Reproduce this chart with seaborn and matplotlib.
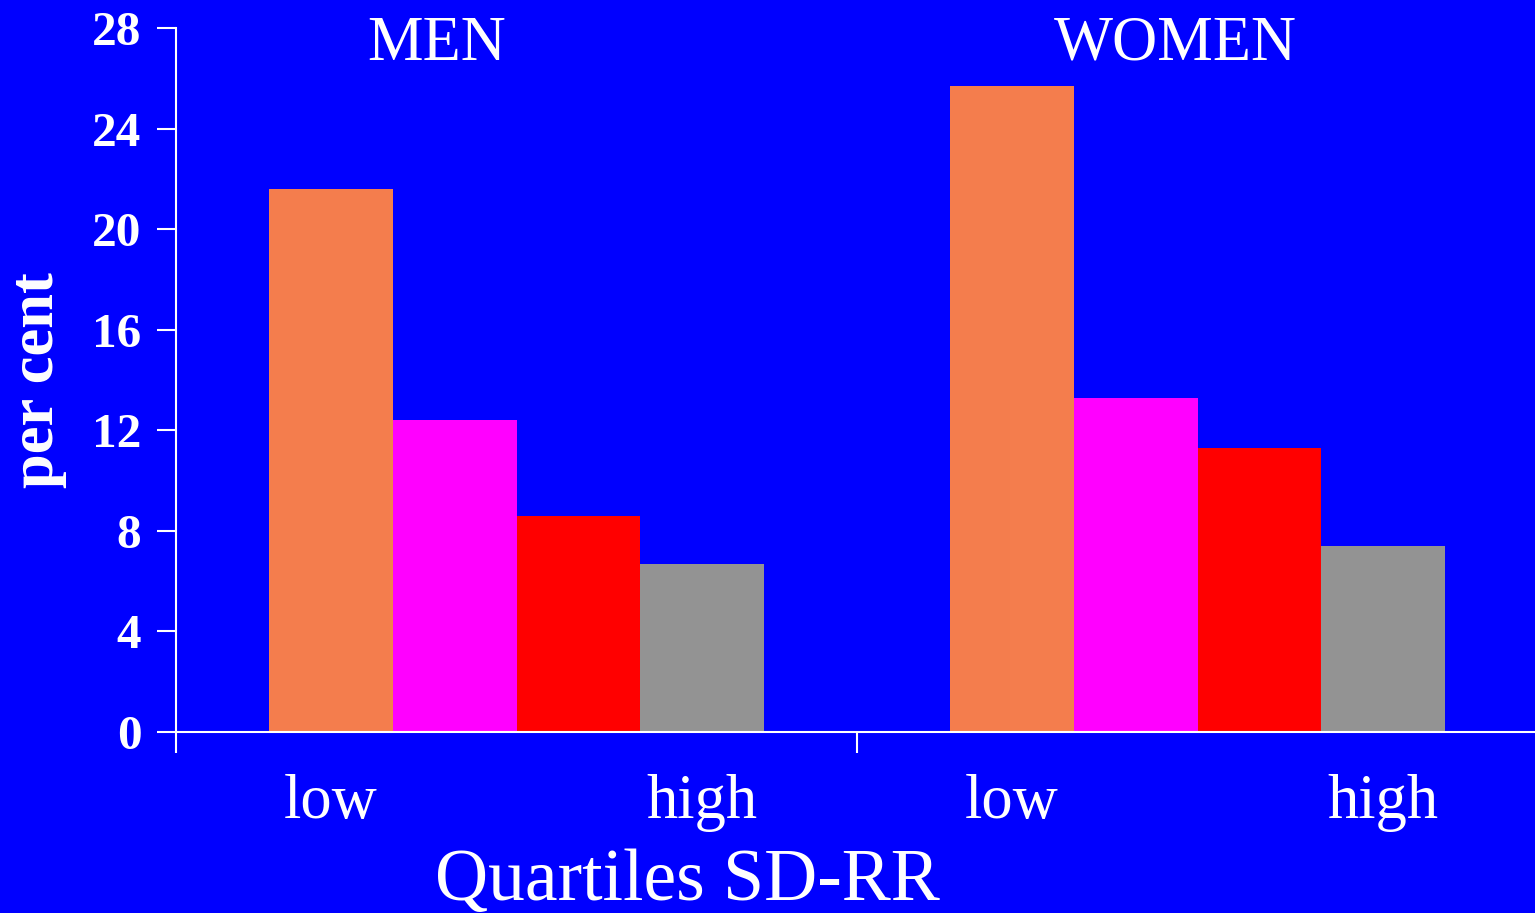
import matplotlib
matplotlib.use("Agg")
import matplotlib.pyplot as plt
import seaborn as sns
import pandas as pd

groups = ["MEN", "WOMEN"]
quartiles = ["Q1", "Q2", "Q3", "Q4"]
men = [21.6, 12.4, 8.6, 6.7]
women = [25.7, 13.3, 11.3, 7.4]
end_labels = ["low", "high"]
y_ticks = [0, 4, 8, 12, 16, 20, 24, 28]
colors = ["#F47D4D", "#FF00FF", "#FF0000", "#939393"]

rows = []
for g, vals in zip(groups, [men, women]):
    for q, v in zip(quartiles, vals):
        rows.append({"sex": g, "quartile": q, "pct": v})
df = pd.DataFrame(rows)

sns.set_theme(style="white")
plt.rcParams["font.family"] = ["Liberation Serif", "DejaVu Serif"]

BG = "#0000FF"
fig = plt.figure(figsize=(15.35, 9.13), dpi=100, facecolor=BG)
ax = fig.add_axes([176/1535, 1-732/913, 1362/1535, (732-28)/913])
ax.set_facecolor(BG)

sns.barplot(data=df, x="sex", y="pct", hue="quartile", palette=colors,
            width=0.727, saturation=1, legend=False, ax=ax,
            edgecolor="none", linewidth=0)

ax.set_xlim(-0.5, 1.5)
ax.set_ylim(0, 28)
ax.set_yticks(y_ticks)
ax.set_yticklabels([str(t) for t in y_ticks], fontsize=35.5, fontweight="bold", color="white")
ax.tick_params(axis="y", direction="out", length=14, width=1.5, color="white", pad=11, left=True)

# major x ticks at group boundaries, no labels
ax.set_xticks([-0.5, 0.5])
ax.set_xticklabels(["", ""])
ax.tick_params(axis="x", which="major", direction="out", length=15, width=1.5, color="white", bottom=True)

centers = sorted(p.get_x() + p.get_width() / 2 for p in ax.patches)
n = len(quartiles)
minor_pos = []
minor_lab = []
for gi in range(len(groups)):
    minor_pos += [centers[gi * n], centers[gi * n + n - 1]]
    minor_lab += end_labels
ax.set_xticks(minor_pos, minor=True)
ax.set_xticklabels(minor_lab, minor=True, fontsize=45, color="white")
ax.tick_params(axis="x", which="minor", length=0, pad=30, bottom=True)

for s in ["top", "right"]:
    ax.spines[s].set_visible(False)
for s in ["left", "bottom"]:
    ax.spines[s].set_color("white")
    ax.spines[s].set_linewidth(1.5)

ax.set_xlabel("")
ax.set_ylabel("")

# group titles
for gx, g in zip([-0.118, 0.968], groups):
    ax.text(gx, 26.73, g, ha="center", va="baseline", fontsize=45, color="white")

fig.text(687/1535, 1-900/913, "Quartiles SD-RR", ha="center", va="baseline",
         fontsize=53, color="white")
fig.text(38/1535, 1-380/913, "per cent", ha="center", va="center", rotation=90,
         fontsize=45, fontweight="bold", color="white")

fig.savefig("out.png", dpi=100, facecolor=BG)
